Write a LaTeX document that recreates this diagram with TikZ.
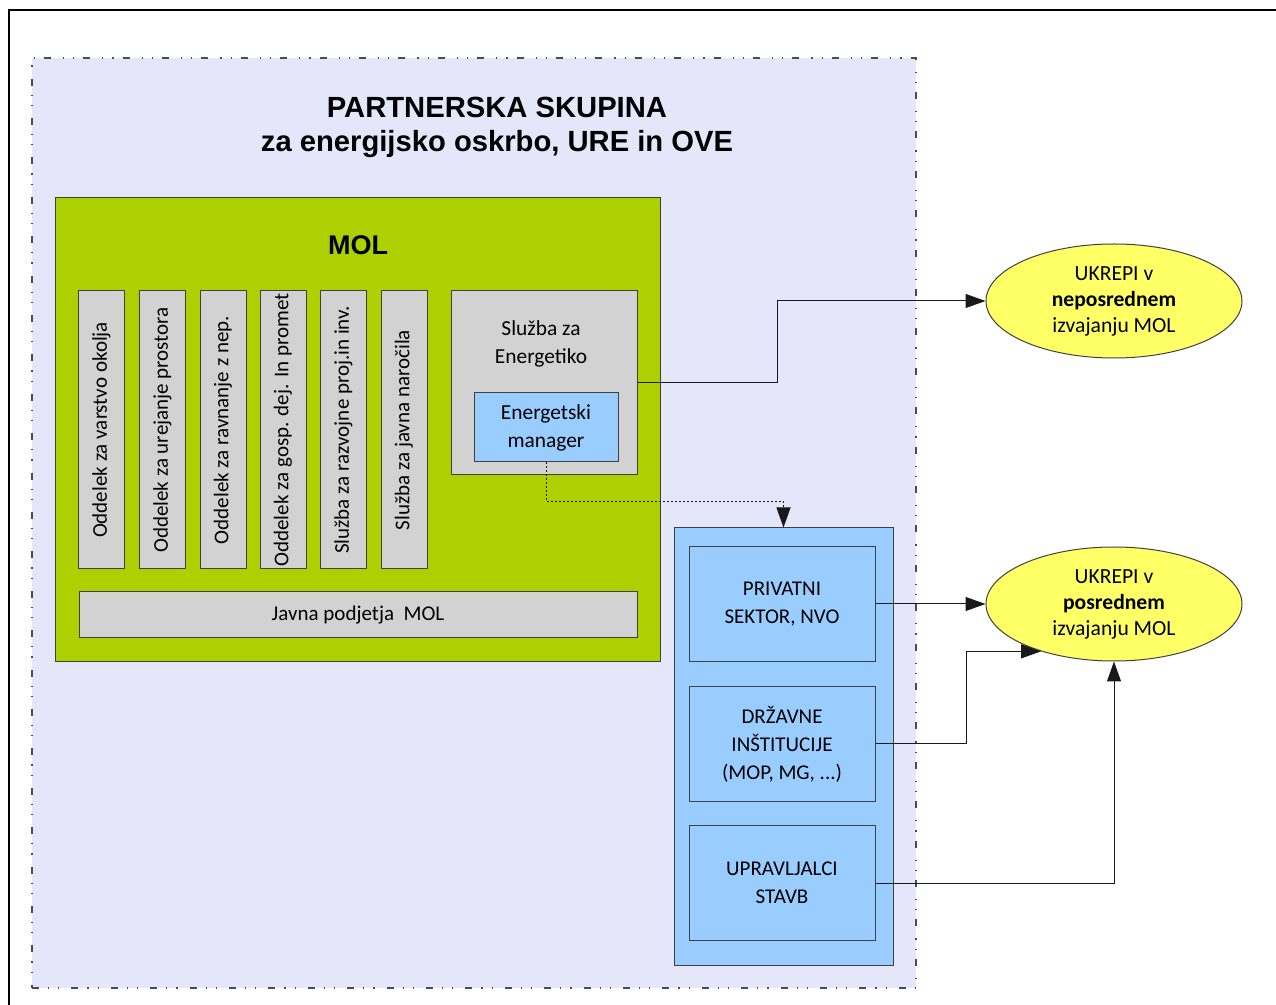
\documentclass[tikz,border=0pt]{standalone}
\usepackage{fontspec}
\setmainfont{Carlito}
\newfontfamily\headfont{Liberation Sans}
\usetikzlibrary{arrows.meta,shapes.geometric}

\definecolor{partnerbg}{RGB}{230,230,250}
\definecolor{molgreen}{RGB}{175,208,0}
\definecolor{unitgray}{RGB}{210,210,210}
\definecolor{sectorblue}{RGB}{153,204,255}
\definecolor{measureyellow}{RGB}{255,255,102}

\begin{document}
\begin{tikzpicture}[x=0.5pt, y=-0.5pt, >={Triangle[length=10pt,width=7pt]},
  every box/.style={draw=black!75, line width=0.5pt, inner sep=0pt, align=center,
    font=\fontsize{10.5}{14}\selectfont},
  unit/.style={every box, fill=unitgray},
  sector/.style={every box, fill=sectorblue, minimum width=93pt, minimum height=57.5pt},
  measure/.style={every box, ellipse, fill=measureyellow, minimum width=128pt,
    minimum height=57pt, font=\fontsize{10.8}{13}\selectfont},
  link/.style={draw=black!90, line width=0.5pt}]

\useasboundingbox (0,0) rectangle (1276,1005);
\draw [line width=1pt] (9,1005) -- (9,10) -- (1276,10);

\node [draw=black!70, fill=partnerbg, line width=0.6pt,
  dash pattern=on 3.5pt off 4.5pt on 0.6pt off 4.5pt on 0.6pt off 6pt,
  minimum width=442pt, minimum height=465pt] (partnership) at (474,523) {};
\node [font=\headfont\bfseries\fontsize{14.6}{17}\selectfont, align=center] (title) at (497,127)
  {PARTNERSKA SKUPINA\\za energijsko oskrbo, URE in OVE};

\node [draw=black!75, fill=molgreen, minimum width=302.5pt, minimum height=232pt] (mol) at (357.5,429) {};
\node [font=\headfont\bfseries\fontsize{13.5}{16}\selectfont] (mol-title) at (358,245) {MOL};

\foreach \l/\x [count=\i] in {Oddelek za varstvo okolja/101.5, Oddelek za urejanje prostora/162.5,
    Oddelek za ravnanje z nep./223, Oddelek za gosp. dej. In promet/283,
    Služba za razvojne proj.in inv./343.5, Služba za javna naročila/404}
  \node [unit, rotate=90, minimum width=139pt, minimum height=23pt] (unit-\i) at (\x,430) {\l};

\node [unit, minimum width=93pt, minimum height=92pt] (energy) at (544,383) {};
\node [font=\fontsize{10.7}{14}\selectfont, align=center] (energy-title) at (541,344) {Služba za\\Energetiko};
\node [every box, fill=sectorblue, minimum width=72pt, minimum height=34.5pt,
  font=\fontsize{10.7}{14}\selectfont] (manager) at (546,427.5) {Energetski\\manager};

\node [unit, minimum width=279pt, minimum height=23pt] (companies) at (358,615) {Javna podjetja\ \ MOL};

\node [every box, fill=sectorblue, minimum width=109.5pt, minimum height=218.5pt] (partners) at (783.5,746.5) {};
\node [sector] (private) at (782,604) {PRIVATNI\\SEKTOR, NVO};
\node [sector] (state) at (782,744) {DRŽAVNE\\INŠTITUCIJE\\(MOP, MG, ...)};
\node [sector] (managers) at (782,883) {UPRAVLJALCI\\STAVB};

\node [measure] (direct) at (1114,301) {UKREPI v\\\textbf{neposrednem}\\izvajanju MOL};
\node [measure] (indirect) at (1114,604) {UKREPI v\\\textbf{posrednem}\\izvajanju MOL};

\draw [link, ->] (energy.east) -- ++(140,0) |- (direct.west);
\draw [link, ->, dash pattern=on 1pt off 1pt] (manager.south) -- ++(0,39) -| (partners.north);
\draw [link, ->] (private.east) -- (indirect.west);
\draw [link, ->] (state.east) -- ++(91,0) |- (indirect.213);
\draw [link, ->] (managers.east) -| (indirect.south);

\end{tikzpicture}
\end{document}
